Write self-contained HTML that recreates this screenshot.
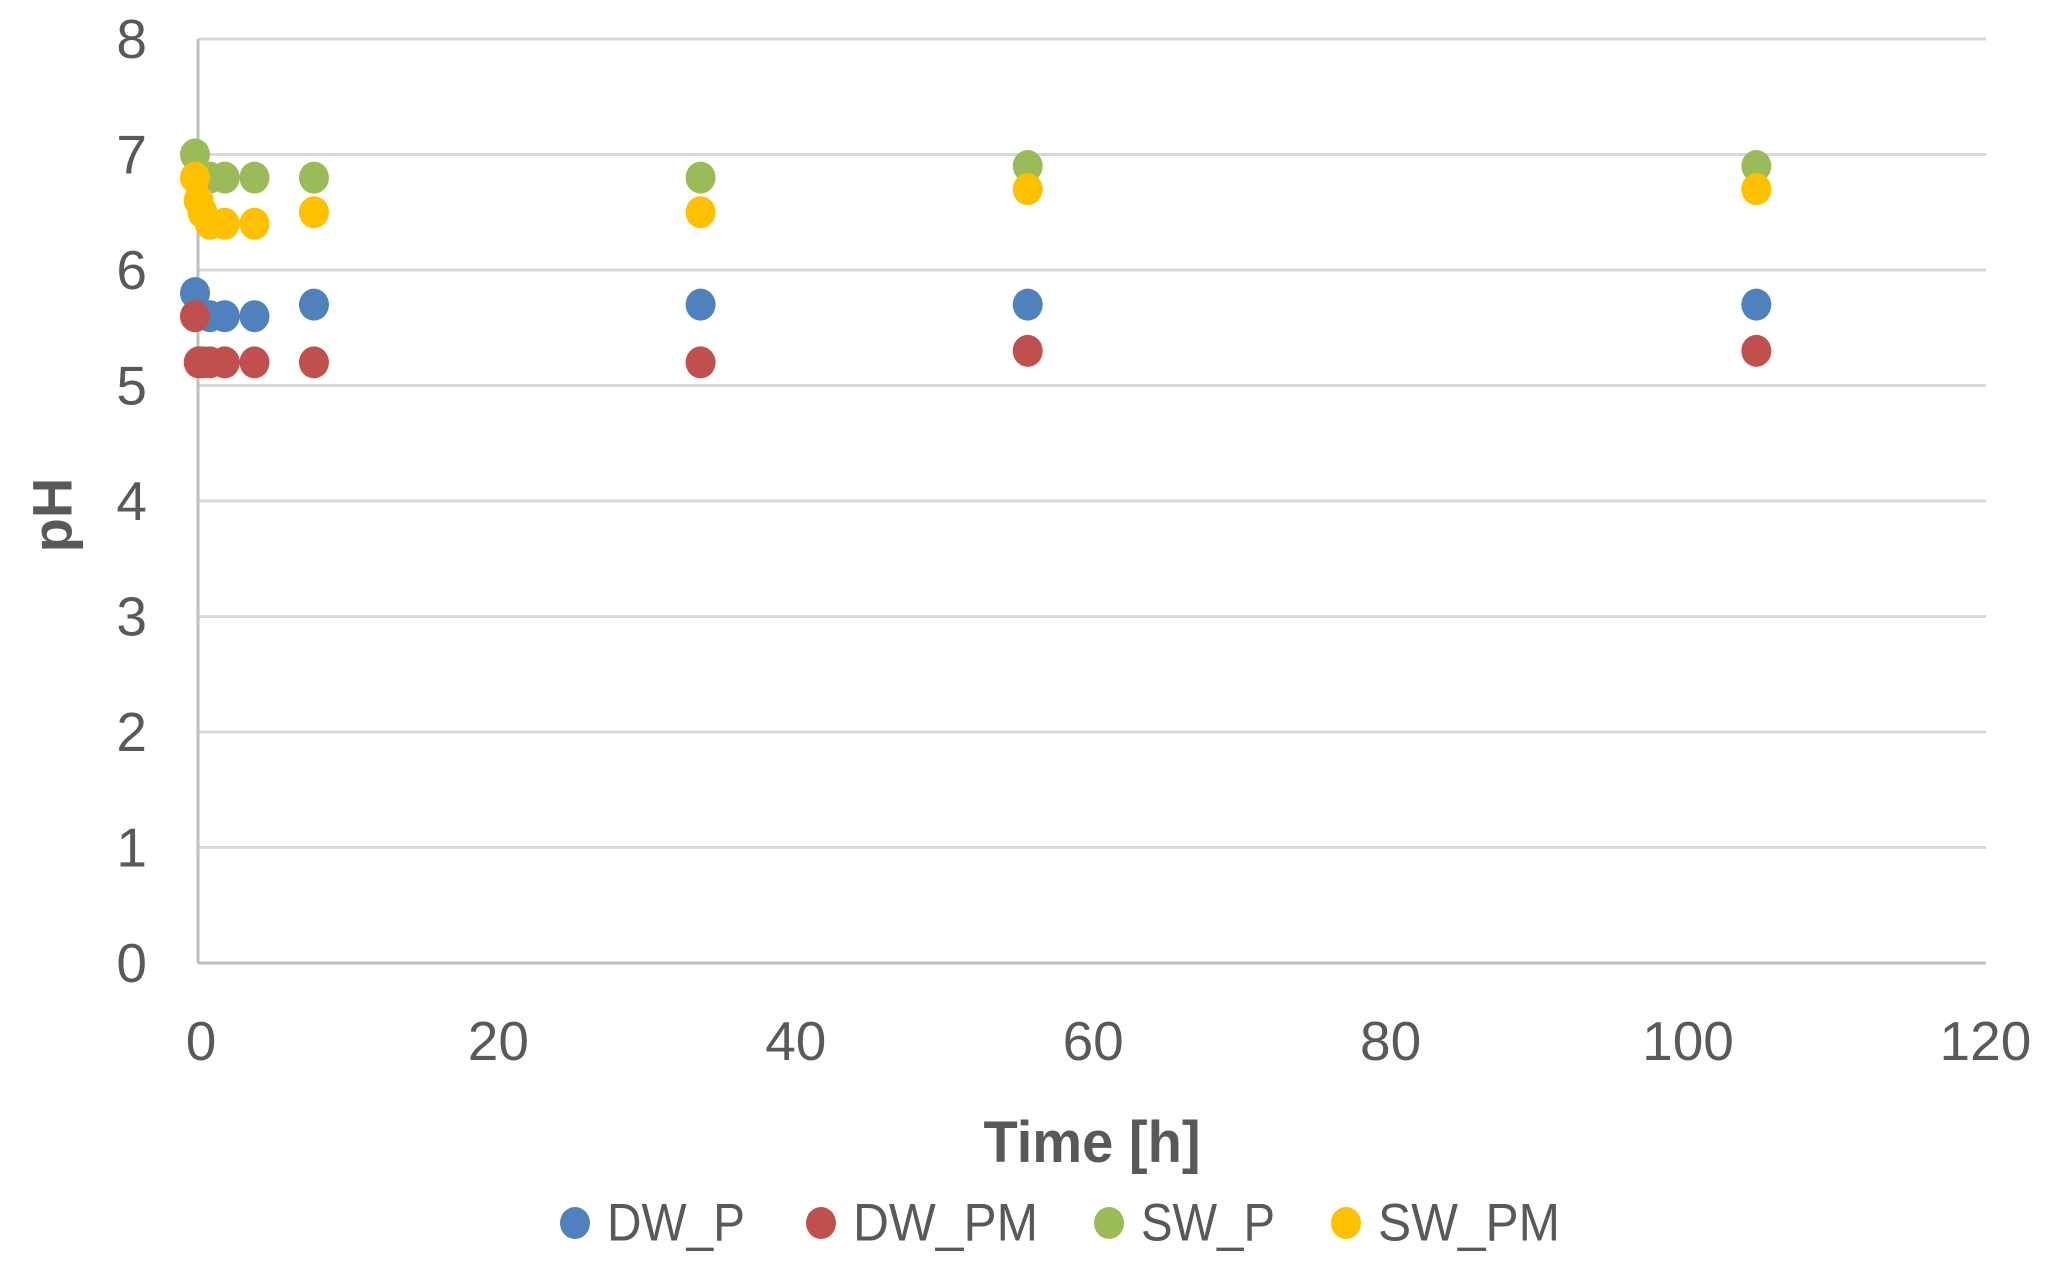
<!DOCTYPE html>
<html><head><meta charset="utf-8"><style>
html,body{margin:0;padding:0;background:#fff;}
svg{display:block;font-family:"Liberation Sans",sans-serif;}
</style></head><body>
<svg id="chart" width="2049" height="1287" viewBox="0 0 2049 1287">
<g id="grid"></g>
<g id="yticks"></g>
<g id="xticks"></g>
<g id="marks"></g>
<text x="52" y="515" transform="rotate(-90 52 515)" text-anchor="middle" dominant-baseline="central" font-size="56" font-weight="bold" fill="#595959">pH</text>
<text x="1092" y="1162" text-anchor="middle" font-size="58" font-weight="bold" fill="#595959" textLength="217" lengthAdjust="spacingAndGlyphs">Time [h]</text>
<g id="legend"></g>
</svg>
<script>
const seriesNames = ["DW_P","DW_PM","SW_P","SW_PM"];
const seriesColors = ["#4f81bd","#c0504d","#9bbb59","#ffc000"];
const dwP_t = [0,1,2,4,8,34,56,105];
const dwP_v = [5.8,5.6,5.6,5.6,5.7,5.7,5.7,5.7];
const dwPM_t = [0,0.25,0.5,1,2,4,8,34,56,105];
const dwPM_v = [5.6,5.2,5.2,5.2,5.2,5.2,5.2,5.2,5.3,5.3];
const swP_t = [0,1,2,4,8,34,56,105];
const swP_v = [7.0,6.8,6.8,6.8,6.8,6.8,6.9,6.9];
const swPM_t = [0,0.25,0.5,1,2,4,8,34,56,105];
const swPM_v = [6.8,6.6,6.5,6.4,6.4,6.4,6.5,6.5,6.7,6.7];
const yTicks = [0,1,2,3,4,5,6,7,8];
const xTicks = [0,20,40,60,80,100,120];

const NS = "http://www.w3.org/2000/svg";
const X0 = 195, XS = 14.87, Y0 = 963, YS = 115.5, XEND = 1986;
function xs(v){return X0 + v*XS;}
function ys(v){return Y0 - v*YS;}
function mk(tag, attrs, parent){const e=document.createElementNS(NS,tag);for(const k in attrs)e.setAttribute(k,attrs[k]);parent.appendChild(e);return e;}

const grid=document.getElementById('grid');
yTicks.forEach(t=>{
  if(t===0) return;
  const l=mk('line',{x1:198,x2:XEND,y1:ys(t),y2:ys(t),stroke:'#d9d9d9','stroke-width':3},grid);
  
  
});
const yax=mk('line',{x1:198,x2:198,y1:ys(8),y2:Y0,stroke:'#bfbfbf','stroke-width':3},grid);


const xax=mk('line',{x1:198,x2:XEND,y1:Y0,y2:Y0,stroke:'#bfbfbf','stroke-width':3},grid);



const yt=document.getElementById('yticks');
yTicks.forEach(t=>{
  const e=mk('text',{x:147,y:ys(t),'text-anchor':'end','dominant-baseline':'central','font-size':55,fill:'#595959'},yt);
  e.textContent=t;
  
  
});
const xt=document.getElementById('xticks');
xTicks.forEach(t=>{
  const e=mk('text',{x:xs(t)+6,y:1041,'text-anchor':'middle','dominant-baseline':'central','font-size':55,fill:'#595959'},xt);
  e.textContent=t;
  
  
});

const marks=document.getElementById('marks');
const all=[[dwP_t,dwP_v],[dwPM_t,dwPM_v],[swP_t,swP_v],[swPM_t,swPM_v]];
all.forEach((s,i)=>{
  s[0].forEach((t,j)=>{
    const c=mk('ellipse',{cx:xs(t),cy:ys(s[1][j]),rx:15,ry:16,fill:seriesColors[i]},marks);
    
    
  });
});

const legend=document.getElementById('legend');
const legMarkX=[575,821,1109,1346];
const legTextW=[138,185,134,182];
seriesNames.forEach((n,i)=>{
  const c=mk('ellipse',{cx:legMarkX[i],cy:1223,rx:15,ry:16,fill:seriesColors[i]},legend);
  
  
  const t=mk('text',{x:legMarkX[i]+32,y:1223,'dominant-baseline':'central','font-size':53,fill:'#595959',textLength:legTextW[i],lengthAdjust:'spacingAndGlyphs'},legend);
  t.textContent=n;
  
  
});
</script>
</body></html>
